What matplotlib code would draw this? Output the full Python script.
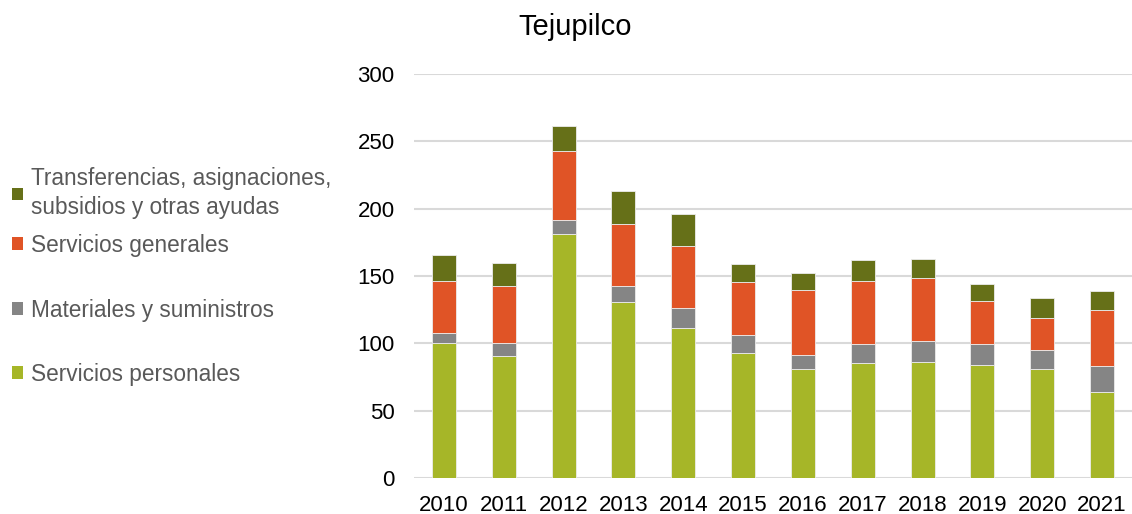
import numpy as np
import matplotlib
matplotlib.use("Agg")
import matplotlib.pyplot as plt
from matplotlib.patches import Patch

plt.rcParams['font.family'] = ['Liberation Sans', 'DejaVu Sans']

years = ['2010', '2011', '2012', '2013', '2014', '2015',
         '2016', '2017', '2018', '2019', '2020', '2021']

# values (stack order bottom -> top)
serv_personales = [100.0, 90.8, 181.4, 130.9, 111.4, 93.1, 80.7, 85.6, 86.1, 83.9, 81.2, 63.6]
materiales = [7.7, 9.4, 10.2, 11.9, 14.8, 13.1, 10.6, 14.2, 15.4, 15.4, 14.1, 19.6]
serv_generales = [38.8, 42.6, 51.2, 45.6, 46.1, 39.3, 48.1, 46.5, 47.0, 32.1, 23.5, 41.6]
transferencias = [19.3, 16.6, 18.6, 25.0, 23.7, 13.7, 12.8, 15.6, 14.1, 12.7, 15.1, 14.1]

series = [
    ('Servicios personales', serv_personales, '#a6b628'),
    ('Materiales y suministros', materiales, '#858585'),
    ('Servicios generales', serv_generales, '#e05426'),
    ('Transferencias, asignaciones,\nsubsidios y otras ayudas', transferencias, '#667018'),
]

fig = plt.figure(figsize=(11.32, 5.14), dpi=100)
ax = fig.add_axes([414 / 1132, 1 - 478 / 514, 718 / 1132, (478 - 74) / 514])

x = np.arange(len(years))
bottom = np.zeros(len(years))
for name, vals, col in series:
    ax.bar(x, vals, width=0.4, bottom=bottom, color=col,
           edgecolor='#ececec', linewidth=0.6, zorder=3)
    bottom += np.array(vals)

ax.set_xlim(-0.5, len(years) - 0.5)
ax.set_ylim(0, 300)
ax.set_yticks(range(0, 301, 50))
ax.set_xticks(x)
ax.set_xticklabels(years)
ax.tick_params(axis='both', length=0, labelsize=16, colors='#000000')
ax.tick_params(axis='y', pad=14)
ax.tick_params(axis='x', pad=12)
ax.grid(axis='y', color='#d9d9d9', linewidth=1.5, zorder=0)
for s in ax.spines.values():
    s.set_visible(False)

fig.text(0.508, 1 - 27 / 514, 'Tejupilco', fontsize=21, ha='center', va='center',
         color='#000000')

# legend entries placed individually (reversed order, uneven spacing like the source)
legend_y = {'Transferencias, asignaciones,\nsubsidios y otras ayudas': 193,
            'Servicios generales': 245,
            'Materiales y suministros': 310,
            'Servicios personales': 374}
for name, vals, col in series:
    leg = fig.legend(handles=[Patch(facecolor=col, edgecolor='none')], labels=[name],
                     loc='center left', bbox_to_anchor=(12 / 1132, 1 - legend_y[name] / 514),
                     frameon=False, fontsize=16.3, handlelength=0.5, handleheight=0.5,
                     handletextpad=0.35, borderpad=0, borderaxespad=0)
    for t in leg.get_texts():
        t.set_color('#595959')
        t.set_linespacing(1.3)

fig.savefig('out.png', dpi=100)
